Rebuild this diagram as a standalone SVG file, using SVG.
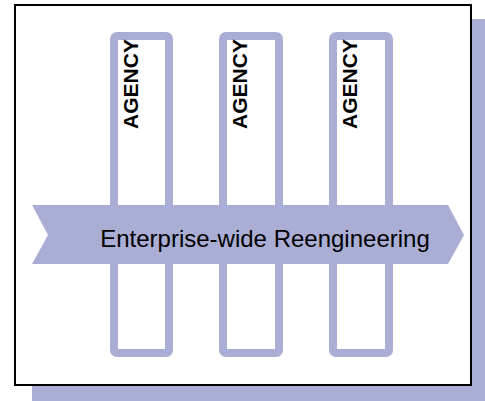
<svg xmlns="http://www.w3.org/2000/svg" width="485" height="401" viewBox="0 0 485 401">
  <style>
    .lav { fill: #abaed4; }
    .col { fill: none; stroke: #abaed4; stroke-width: 8; }
    .agency { font-family: "Liberation Sans", Arial, sans-serif; font-weight: bold; font-size: 21px; fill: #000; text-anchor: middle; }
    .band-label { font-family: "Liberation Sans", Arial, sans-serif; font-size: 24px; fill: #000; text-anchor: middle; }
  </style>

  <!-- drop shadow and frame -->
  <rect class="lav" x="32" y="19" width="453" height="382"/>
  <rect x="15" y="5" width="456" height="380" fill="#fff" stroke="#000" stroke-width="2"/>

  <!-- vertical agency columns -->
  <g id="agency-1">
    <rect class="col" x="114" y="36" width="55" height="317" rx="3"/>
    <text class="agency" transform="translate(138,84) rotate(-90)">AGENCY</text>
  </g>
  <g id="agency-2">
    <rect class="col" x="223" y="36" width="56" height="317" rx="3"/>
    <text class="agency" transform="translate(247,84) rotate(-90)">AGENCY</text>
  </g>
  <g id="agency-3">
    <rect class="col" x="333" y="36" width="56" height="317" rx="3"/>
    <text class="agency" transform="translate(357,84) rotate(-90)">AGENCY</text>
  </g>

  <!-- horizontal chevron band across the columns -->
  <g id="reengineering">
    <polygon class="lav" points="32,205 448,205 464,235 448,264 32,264 48,235"/>
    <text class="band-label" x="265" y="247">Enterprise-wide Reengineering</text>
  </g>

  <g id="connectors"/>
</svg>
